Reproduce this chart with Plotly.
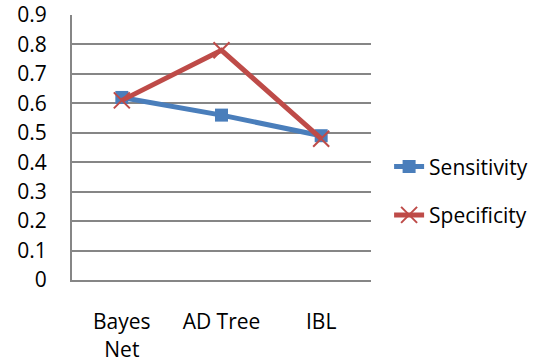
import plotly.graph_objects as go

categories = ["Bayes<br>Net", "AD Tree", "IBL"]
sensitivity = [0.62, 0.56, 0.49]
specificity = [0.61, 0.78, 0.48]
y_ticks = [0, 0.1, 0.2, 0.3, 0.4, 0.5, 0.6, 0.7, 0.8, 0.9]
y_tick_text = ["0", "0.1", "0.2", "0.3", "0.4", "0.5", "0.6", "0.7", "0.8", "0.9"]

FONT = "Open Sans, Calibri, Carlito, sans-serif"
FSIZE = 21
BLUE = "#4a7ebb"
RED = "#be4b48"
GRID = "#868686"

fig = go.Figure()
fig.add_trace(go.Scatter(
    x=categories, y=sensitivity, name="Sensitivity", mode="lines+markers",
    line=dict(color=BLUE, width=5),
    marker=dict(symbol="square", size=13, color=BLUE),
    legendgroup="a",
))
fig.add_trace(go.Scatter(
    x=categories, y=specificity, name="Specificity", mode="lines+markers",
    line=dict(color=RED, width=5),
    marker=dict(symbol="x-thin", size=16, color=RED, line=dict(color=RED, width=2)),
    legendgroup="b",
))

fig.update_layout(
    width=544, height=364,
    margin=dict(l=72, r=172, t=15, b=84),
    paper_bgcolor="white", plot_bgcolor="white",
    font=dict(family=FONT, size=FSIZE, color="black"),
    showlegend=True,
    legend=dict(
        x=1.057, y=0.336, xanchor="left", yanchor="middle",
        font=dict(family=FONT, size=FSIZE, color="black"),
        tracegroupgap=18, traceorder="grouped",
        bgcolor="rgba(0,0,0,0)",
    ),
    xaxis=dict(
        type="category", range=[-0.5, 2.5],
        showgrid=False, showline=True, linecolor=GRID, linewidth=2,
        ticks="outside", ticklen=22, tickcolor="rgba(0,0,0,0)",
        tickfont=dict(family=FONT, size=FSIZE),
        automargin=False, fixedrange=True,
    ),
    yaxis=dict(
        range=[0, 0.9], tickvals=y_ticks, ticktext=y_tick_text,
        showgrid=True, gridcolor=GRID, gridwidth=1.5,
        showline=True, linecolor=GRID, linewidth=2,
        ticks="outside", ticklen=19, tickcolor="rgba(0,0,0,0)",
        tickfont=dict(family=FONT, size=FSIZE),
        zeroline=False, automargin=False, fixedrange=True,
    ),
)

fig.write_html("out.html")
